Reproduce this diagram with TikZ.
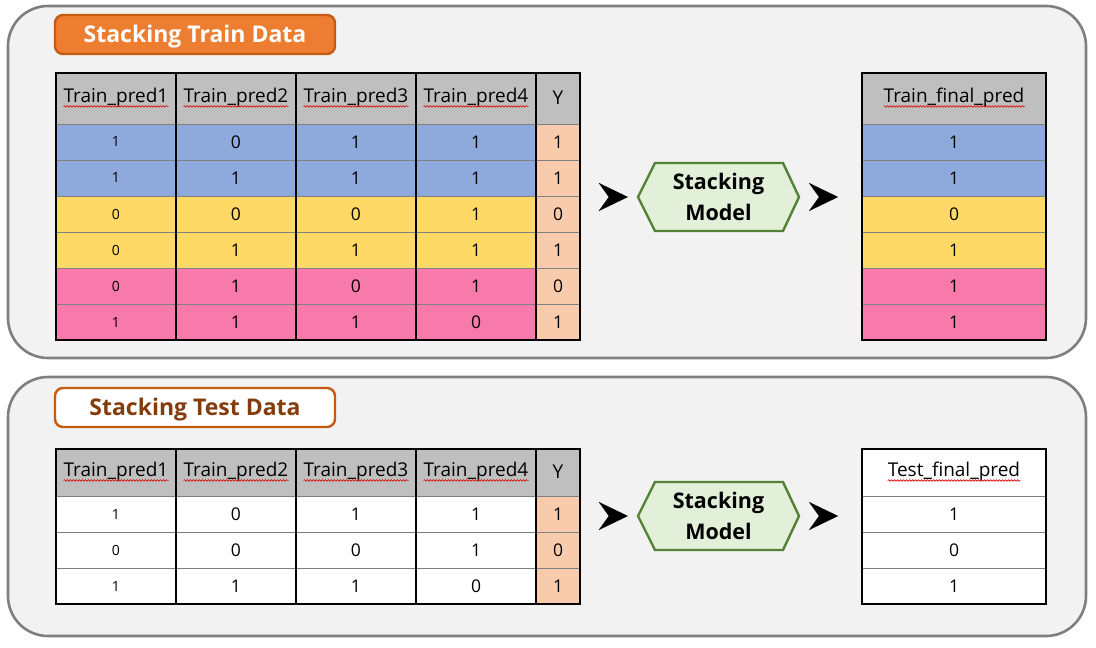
\documentclass[tikz,border=0pt]{standalone}
\usepackage{fontspec}
\setmainfont{Open Sans}
\usetikzlibrary{arrows.meta,decorations.pathmorphing,calc}
\definecolor{bgpanel}{HTML}{F2F2F2}
\definecolor{framegray}{HTML}{7F7F7F}
\definecolor{orng}{HTML}{ED7D31}
\definecolor{orngdk}{HTML}{C55A11}
\definecolor{brwn}{HTML}{843C0C}
\definecolor{hdrgray}{HTML}{BFBFBF}
\definecolor{cblue}{HTML}{8EA9DB}
\definecolor{cyel}{HTML}{FFD966}
\definecolor{cpink}{HTML}{F77AAA}
\definecolor{cpeach}{HTML}{F8CBAD}
\definecolor{hexfill}{HTML}{E2F0D9}
\definecolor{hexdraw}{HTML}{548235}
\definecolor{gridgray}{HTML}{808080}
\newcommand\hdrfont{\fontsize{19}{22}\selectfont}
\newcommand\numfont{\fontsize{17.5}{20}\selectfont}
\newcommand\smallnumfont{\fontsize{14}{16}\selectfont}
\begin{document}
\begin{tikzpicture}[x=1pt,y=-1pt,
  panel/.style={draw=framegray,fill=bgpanel,line width=2.6pt,rounded corners=40pt},
  titlebox/.style={line width=2.4pt,rounded corners=8pt,minimum width=280pt,minimum height=39pt,inner sep=0pt,text height=16.4pt,text depth=0pt,font=\bfseries\fontsize{23}{26}\selectfont},
  cell/.style={draw=gridgray,line width=1pt,inner sep=0pt,minimum height=36pt,anchor=center},
  hcell/.style={draw=gridgray,line width=1pt,inner sep=0pt,anchor=center},
  htext/.style={inner sep=0pt,font=\hdrfont},
  squig/.style={draw=red!85!black,line width=0.6pt,decorate,decoration={snake,amplitude=0.8pt,segment length=3pt}},
  border/.style={draw=black,line width=1.6pt},
  vline/.style={draw=black,line width=1.3pt},
  hexshape/.style={draw=hexdraw,fill=hexfill,line width=2.4pt,line join=miter},
  modeltext/.style={minimum width=161pt,minimum height=68pt,inner sep=0pt,align=center,font=\bfseries\fontsize{21.5}{31}\selectfont},
  tipstyle/.style={line width=0.05pt,-{Stealth[length=29pt,width=28pt,inset=10pt]}}
]
\useasboundingbox (0,0) rectangle (1096,648);
% ---------- panels
\draw[panel] (8,6) rectangle (1086,358);
\draw[panel] (8,377) rectangle (1086,636);
% ---------- titles
\node[titlebox,draw=orngdk,fill=orng,text=white] (title1) at (195,34.5) {Stacking Train Data};
\node[titlebox,draw=orngdk,fill=white,text=brwn] (title2) at (195,407.5) {Stacking Test Data};

% ================= TOP TABLE =================
\foreach \i/\cx/\t in {1/116/Train\_pred1,2/236/Train\_pred2,3/356/Train\_pred3,4/476/Train\_pred4}{
  \node[hcell,fill=hdrgray,minimum width=120pt,minimum height=51pt] (th\i) at (\cx,98.5) {};
  \node[htext] (tht\i) at (\cx,98) {\t};
  \draw[squig] ($(tht\i.base west)+(0,3.5)$) -- ($(tht\i.base east)+(0,3.5)$);
}
\node[hcell,fill=hdrgray,minimum width=44pt,minimum height=51pt] (th5) at (558,98.5) {};
\node[htext] (tht5) at (558,98) {Y};
\node[hcell,fill=hdrgray,minimum width=184pt,minimum height=51pt] (tfh) at (954,98.5) {};
\node[htext] (tfht) at (954,98) {Train\_final\_pred};
\draw[squig] ($(tfht.base west)+(0,3.5)$) -- ($(tfht.base east)+(0,3.5)$);

\foreach \r/\fc/\va/\vb/\vc/\vd/\vy/\vf in {1/cblue/1/0/1/1/1/1,2/cblue/1/1/1/1/1/1,3/cyel/0/0/0/1/0/0,4/cyel/0/1/1/1/1/1,5/cpink/0/1/0/1/0/1,6/cpink/1/1/1/0/1/1}{
  \pgfmathsetmacro\cy{106+36*\r}
  \node[cell,fill=\fc,minimum width=120pt,font=\smallnumfont] (t\r a) at (116,\cy) {\va};
  \node[cell,fill=\fc,minimum width=120pt,font=\numfont] (t\r b) at (236,\cy) {\vb};
  \node[cell,fill=\fc,minimum width=120pt,font=\numfont] (t\r c) at (356,\cy) {\vc};
  \node[cell,fill=\fc,minimum width=120pt,font=\numfont] (t\r d) at (476,\cy) {\vd};
  \node[cell,fill=cpeach,minimum width=44pt,font=\numfont] (t\r y) at (558,\cy) {\vy};
  \node[cell,fill=\fc,minimum width=184pt,font=\numfont] (tf\r) at (954,\cy) {\vf};
}
\foreach \x in {176,296,416,536}{\draw[vline] (\x,73) -- (\x,340);}
\draw[border] (56,73) rectangle (580,340);
\draw[border] (862,73) rectangle (1046,340);

% ================= BOTTOM TABLE =================
\foreach \i/\cx/\t in {1/116/Train\_pred1,2/236/Train\_pred2,3/356/Train\_pred3,4/476/Train\_pred4}{
  \node[hcell,fill=hdrgray,minimum width=120pt,minimum height=47pt] (bh\i) at (\cx,472.5) {};
  \node[htext] (bht\i) at (\cx,472) {\t};
  \draw[squig] ($(bht\i.base west)+(0,3.5)$) -- ($(bht\i.base east)+(0,3.5)$);
}
\node[hcell,fill=hdrgray,minimum width=44pt,minimum height=47pt] (bh5) at (558,472.5) {};
\node[htext] (bht5) at (558,472) {Y};
\node[hcell,fill=white,minimum width=184pt,minimum height=47pt] (bfh) at (954,472.5) {};
\node[htext] (bfht) at (954,472) {Test\_final\_pred};
\draw[squig] ($(bfht.base west)+(0,3.5)$) -- ($(bfht.base east)+(0,3.5)$);

\foreach \r/\va/\vb/\vc/\vd/\vy/\vf in {1/1/0/1/1/1/1,2/0/0/0/1/0/0,3/1/1/1/0/1/1}{
  \pgfmathsetmacro\cy{478+36*\r}
  \node[cell,fill=white,minimum width=120pt,font=\smallnumfont] (b\r a) at (116,\cy) {\va};
  \node[cell,fill=white,minimum width=120pt,font=\numfont] (b\r b) at (236,\cy) {\vb};
  \node[cell,fill=white,minimum width=120pt,font=\numfont] (b\r c) at (356,\cy) {\vc};
  \node[cell,fill=white,minimum width=120pt,font=\numfont] (b\r d) at (476,\cy) {\vd};
  \node[cell,fill=cpeach,minimum width=44pt,font=\numfont] (b\r y) at (558,\cy) {\vy};
  \node[cell,fill=white,minimum width=184pt,font=\numfont] (bf\r) at (954,\cy) {\vf};
}
\foreach \x in {176,296,416,536}{\draw[vline] (\x,449) -- (\x,604);}
\draw[border] (56,449) rectangle (580,604);
\draw[border] (862,449) rectangle (1046,604);

% ================= MODELS =================
\coordinate (m1c) at (718.5,197);
\coordinate (m2c) at (718.5,516);
\foreach \m in {m1c,m2c}{
  \draw[hexshape] ($(\m)+(-80.5,0)$) -- ($(\m)+(-63.5,-34)$) -- ($(\m)+(64.5,-34)$) -- ($(\m)+(80.5,0)$) -- ($(\m)+(64.5,34)$) -- ($(\m)+(-63.5,34)$) -- cycle;
}
\node[modeltext] (m1) at (m1c) {Stacking\\Model};
\node[modeltext] (m2) at (m2c) {Stacking\\Model};

% ================= ARROWS =================
\coordinate (tab1out) at (580,197);
\coordinate (fin1in) at (862,197);
\coordinate (tab2out) at (580,516);
\coordinate (fin2in) at (862,516);
\draw[tipstyle,shorten <=29pt,shorten >=10pt] (tab1out) -- (m1.west);
\draw[tipstyle,shorten <=20pt,shorten >=24pt] (m1.east) -- (fin1in);
\draw[tipstyle,shorten <=29pt,shorten >=10pt] (tab2out) -- (m2.west);
\draw[tipstyle,shorten <=20pt,shorten >=24pt] (m2.east) -- (fin2in);
\end{tikzpicture}
\end{document}
